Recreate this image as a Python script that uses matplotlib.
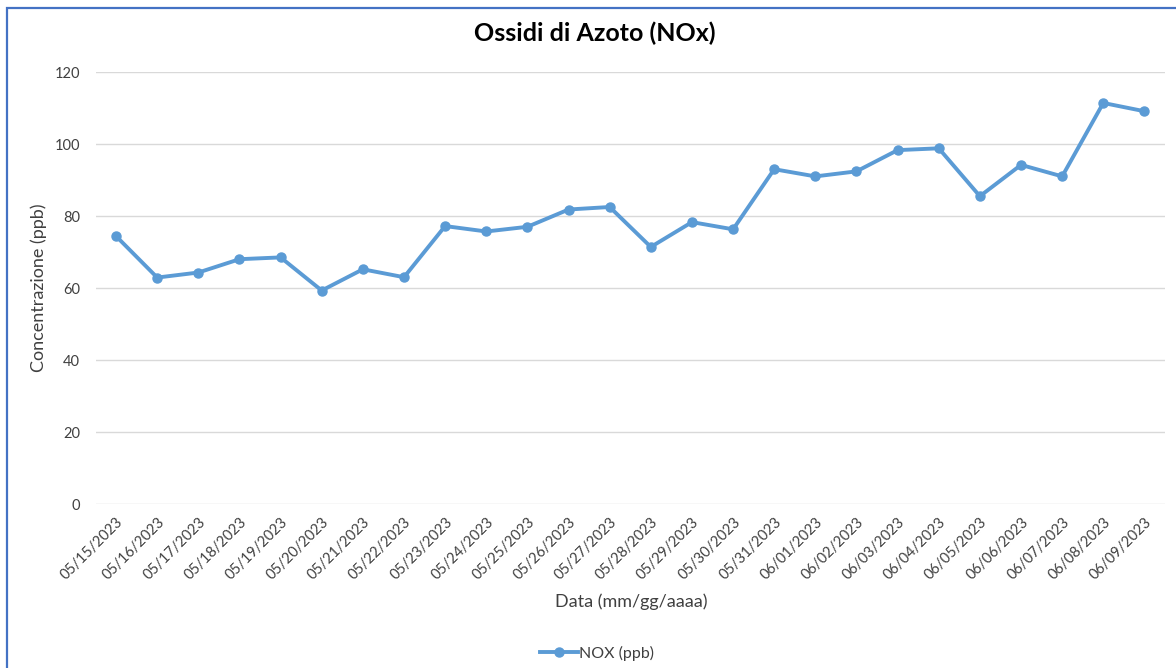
import matplotlib.pyplot as plt
from matplotlib.patches import Rectangle

# NOx daily values
dates = ['05/15/2023', '05/16/2023', '05/17/2023', '05/18/2023', '05/19/2023',
         '05/20/2023', '05/21/2023', '05/22/2023', '05/23/2023', '05/24/2023',
         '05/25/2023', '05/26/2023', '05/27/2023', '05/28/2023', '05/29/2023',
         '05/30/2023', '05/31/2023', '06/01/2023', '06/02/2023', '06/03/2023',
         '06/04/2023', '06/05/2023', '06/06/2023', '06/07/2023', '06/08/2023',
         '06/09/2023']
nox = [74.4, 62.9, 64.3, 68.0, 68.5, 59.3, 65.2, 63.0, 77.2, 75.7,
       77.0, 81.8, 82.5, 71.4, 78.3, 76.3, 93.0, 91.0, 92.4, 98.3,
       98.8, 85.5, 94.2, 91.0, 111.4, 109.1]
yticks = [0, 20, 40, 60, 80, 100, 120]

plt.rcParams['font.family'] = ['Lato', 'DejaVu Sans']
text_col = '#404040'
line_col = '#5B9BD5'

W, H = 1176, 668
fig = plt.figure(figsize=(W / 100, H / 100), dpi=100)
ax_left, ax_bot = 95.5, 504
ax_w, ax_h = 1165 - 95.5, 504 - 72
ax = fig.add_axes([ax_left / W, 1 - ax_bot / H, ax_w / W, ax_h / H])

x = list(range(len(dates)))
ax.plot(x, nox, color=line_col, lw=2.8, marker='o', ms=6.5,
        solid_joinstyle='round', label='NOX (ppb)', zorder=3)

ax.set_xlim(-0.5, len(dates) - 0.5)
ax.set_ylim(0, 120)
ax.set_yticks(yticks)
ax.set_xticks(x)
ax.set_xticklabels(dates, rotation=45, ha='right', va='top',
                   rotation_mode='anchor', fontsize=10.5, color=text_col)
ax.tick_params(axis='y', labelsize=10.5, labelcolor=text_col, length=0, pad=11)
ax.tick_params(axis='x', length=0, pad=8)
ax.grid(axis='y', color='#D9D9D9', lw=1)
ax.set_axisbelow(True)
for s in ax.spines.values():
    s.set_visible(False)

ax.set_ylabel('Concentrazione (ppb)', fontsize=13, color=text_col)
ax.yaxis.set_label_coords((47 - ax_left) / ax_w, 0.5)
ax.set_xlabel('Data (mm/gg/aaaa)', fontsize=13, color=text_col)
ax.xaxis.set_label_coords((631 - ax_left) / ax_w, (ax_bot - 593) / ax_h)
fig.text(595 / W, 1 - 33 / H, 'Ossidi di Azoto (NOx)', ha='center', va='center',
         fontsize=18, fontweight='bold', color='black')

fig.legend(loc='center', bbox_to_anchor=(597 / W, 1 - 653 / H), frameon=False,
           fontsize=11.5, labelcolor=text_col, handlelength=2.4, handletextpad=0.1)

# blue chart border (only left and top edges are visible)
fig.patches.append(Rectangle((7 / W, -0.1), 1.2, 1.1 - 8 / H, transform=fig.transFigure,
                             fill=False, ec='#4472C4', lw=1.6))

fig.savefig('out.png', dpi=100)
